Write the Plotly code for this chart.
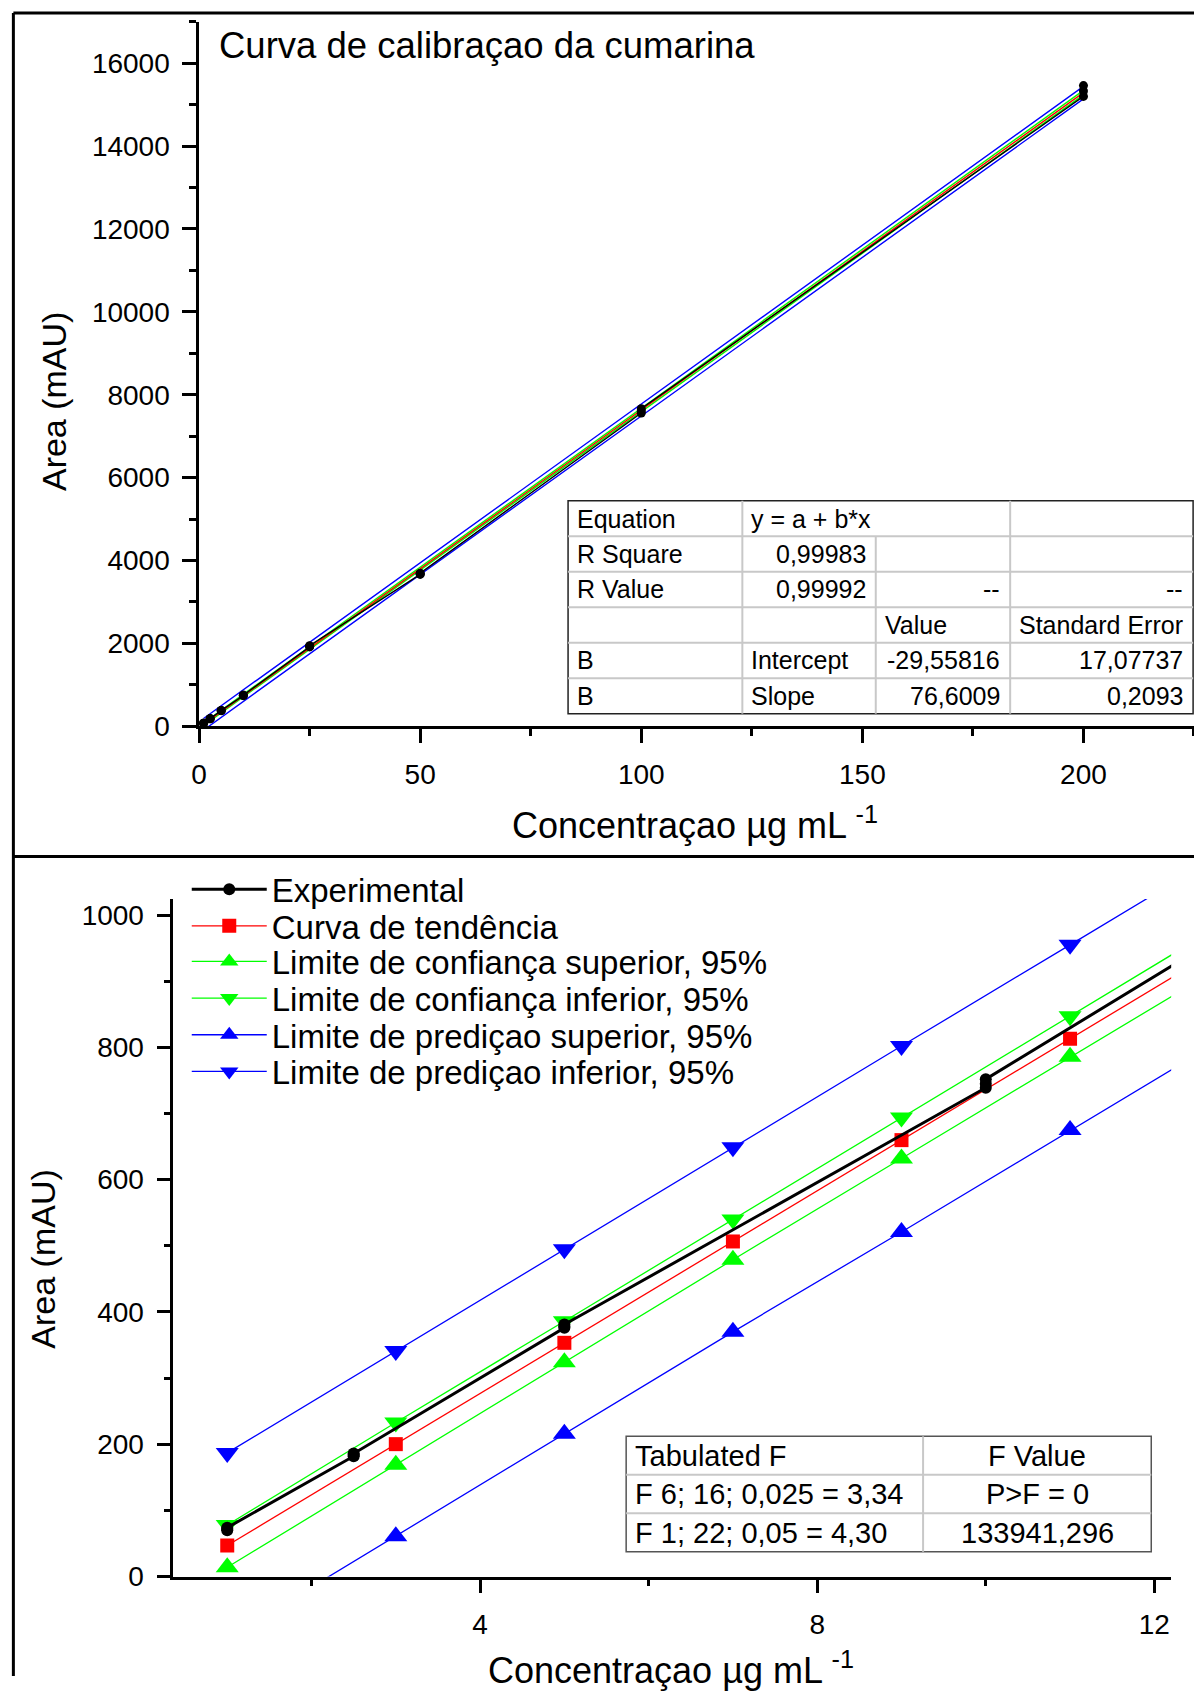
import plotly.graph_objects as go

W, H = 1194, 1692          # reference picture size
SY = 0.991                 # vertical factor observed between page and photograph
SX, DX = 0.9969, 3.6       # horizontal factor / offset observed between page and photograph
FONT = "Liberation Sans, Arial, sans-serif"

# ---------------- data ----------------
EXP_CONC = [1, 1, 1, 2.5, 2.5, 2.5, 5, 5, 5, 10, 10, 10,
            25, 25, 25, 50, 50, 50, 100, 100, 100, 200, 200, 200]
EXP_AREA = [70, 72, 74, 182, 184, 186, 376, 378, 381, 739, 745, 752,
            1915, 1930, 1945, 3665, 3680, 3695, 7560, 7610, 7665, 15200, 15330, 15460]

BAND_CONC = [1, 3, 5, 7, 9, 11, 13, 200]
TREND = [47.0, 200.2, 353.4, 506.6, 659.8, 813.0, 966.2, 15290.6]
CONF_SUP = [14, 169, 324, 479, 632, 786, 940, 15236]     # green up-triangles
CONF_INF = [78, 233, 386, 540, 694, 847, 1001, 15345]    # green down-triangles
PRED_SUP = [-93, 61, 216, 370, 521, 675, 829, 15140]     # blue up-triangles
PRED_INF = [187, 341, 495, 649, 802, 955, 1109, 15440]   # blue down-triangles

SERIES_NAMES = ["Experimental", "Curva de tendência",
                "Limite de confiança superior, 95%", "Limite de confiança inferior, 95%",
                "Limite de prediçao superior, 95%", "Limite de prediçao inferior, 95%"]

TITLE = "Curva de calibraçao da cumarina"
X_TITLE = "Concentraçao µg mL <sup>-1</sup>"
Y_TITLE = "Area (mAU)"

TABLE1 = [
    ["Equation", "y = a + b*x", "", ""],
    ["R Square", "0,99983", "", ""],
    ["R Value", "0,99992", "--", "--"],
    ["", "", "Value", "Standard Error"],
    ["B", "Intercept", "-29,55816", "17,07737"],
    ["B", "Slope", "76,6009", "0,2093"],
]
TABLE1_ALIGN = [
    ["l", "l", "l", "l"],
    ["l", "r", "r", "r"],
    ["l", "r", "r", "r"],
    ["l", "l", "l", "l"],
    ["l", "l", "r", "r"],
    ["l", "l", "r", "r"],
]
TABLE2 = [
    ["Tabulated F", "F Value"],
    ["F 6; 16; 0,025 = 3,34", "P>F = 0"],
    ["F 1; 22; 0,05 = 4,30", "133941,296"],
]

# ---------------- styles ----------------
BLACK, RED, GREEN, BLUE = "#000000", "#ff0000", "#00ff00", "#0000ff"


def px_x(v):
    return min(max(((v - DX) / SX) / W, 0.0), 1.0)


def px_y(v):
    return max(1 - (v / SY) / H, 0.0)


fig = go.Figure()

# ---- top panel (lines only for bands) ----
top_bands = [(PRED_SUP, BLUE), (PRED_INF, BLUE), (CONF_SUP, GREEN), (CONF_INF, GREEN), (TREND, RED)]
for vals, col in top_bands:
    fig.add_trace(go.Scatter(x=BAND_CONC, y=vals, mode="lines", line=dict(color=col, width=1.4),
                             xaxis="x", yaxis="y", showlegend=False, hoverinfo="skip"))
fig.add_trace(go.Scatter(x=EXP_CONC, y=EXP_AREA, mode="lines+markers",
                         line=dict(color=BLACK, width=1.4),
                         marker=dict(color=BLACK, size=9, symbol="circle"),
                         xaxis="x", yaxis="y", showlegend=False))

# ---- bottom panel ----
legend_keys = ["legend", "legend2", "legend3", "legend4", "legend5", "legend6"]
bottom_specs = [
    (PRED_SUP, BLUE, "triangle-up", 20, 4),
    (PRED_INF, BLUE, "triangle-down", 20, 5),
    (CONF_SUP, GREEN, "triangle-up", 20, 2),
    (CONF_INF, GREEN, "triangle-down", 20, 3),
    (TREND, RED, "square", 14, 1),
]
for vals, col, sym, sz, idx in bottom_specs:
    fig.add_trace(go.Scatter(x=BAND_CONC, y=vals, mode="lines+markers", name=SERIES_NAMES[idx],
                             line=dict(color=col, width=1.3),
                             marker=dict(color=col, size=sz, symbol=sym, line=dict(width=0)),
                             xaxis="x2", yaxis="y2", legend=legend_keys[idx]))
fig.add_trace(go.Scatter(x=EXP_CONC, y=EXP_AREA, mode="lines+markers", name=SERIES_NAMES[0],
                         line=dict(color=BLACK, width=3),
                         marker=dict(color=BLACK, size=12, symbol="circle"),
                         xaxis="x2", yaxis="y2", legend=legend_keys[0]))


# ---------------- axes ----------------
def axis_common(dtick, minor_dtick):
    return dict(showline=True, linecolor=BLACK, linewidth=2.5, mirror=False,
                ticks="outside", ticklen=14, tickwidth=2.5, tickcolor=BLACK,
                tick0=0, dtick=dtick, showgrid=False, zeroline=False,
                tickfont=dict(family=FONT, size=28, color=BLACK), ticklabelstandoff=7,
                minor=dict(ticks="outside", ticklen=7, tickwidth=2.5, tickcolor=BLACK,
                           tick0=0, dtick=minor_dtick, showgrid=False))


fig.update_layout(
    xaxis=dict(domain=[px_x(195.4), 1.0], range=[0, 225], anchor="y", **axis_common(50, 25)),
    yaxis=dict(domain=[px_y(726.6), px_y(21.8)], range=[0, 17000], anchor="x", tickformat="d",
               **axis_common(2000, 1000)),
    xaxis2=dict(domain=[px_x(169.5), px_x(1171)], range=[0.36, 12.2], anchor="y2", **axis_common(4, 2)),
    yaxis2=dict(domain=[px_y(1577.3), px_y(899.3)], range=[0, 1024.5], anchor="x2", tickformat="d",
                **axis_common(200, 100)),
)

# ---------------- legends ----------------
LEG_Y = [889.6, 926.3, 961.9, 998.6, 1035.3, 1072.0]
for key, ly in zip(legend_keys, LEG_Y):
    fig.layout[key] = dict(x=px_x(183), y=px_y(ly), xanchor="left", yanchor="middle",
                           bgcolor="rgba(0,0,0,0)", borderwidth=0, itemwidth=75,
                           font=dict(family=FONT, size=33, color=BLACK))

# ---------------- annotations / shapes ----------------
annotations = []
shapes = []


def ann(text, x, y, size, xanchor="left", angle=0):
    annotations.append(dict(text=text, x=px_x(x), y=px_y(y), xref="paper", yref="paper",
                            showarrow=False, xanchor=xanchor, yanchor="middle", textangle=angle,
                            font=dict(family=FONT, size=size, color=BLACK)))


def line(x0, y0, x1, y1, color, width):
    shapes.append(dict(type="line", xref="paper", yref="paper", x0=px_x(x0), y0=px_y(y0),
                       x1=px_x(x1), y1=px_y(y1), line=dict(color=color, width=width), layer="above"))


def rect(x0, y0, x1, y1, color, width):
    shapes.append(dict(type="rect", xref="paper", yref="paper", x0=px_x(x0), y0=px_y(y0),
                       x1=px_x(x1), y1=px_y(y1), line=dict(color=color, width=width),
                       fillcolor="white", layer="above"))


# outer frame
line(9, 13, 1200, 13, BLACK, 3)
line(9, 13, 9, 1692, BLACK, 3)
line(9, 857, 1200, 857, BLACK, 3)

# titles
ann(TITLE, 213, 46, 36.5)
ann(X_TITLE, 693, 823, 36, xanchor="center")
ann(Y_TITLE, 50, 402, 34, xanchor="center", angle=-90)
ann(X_TITLE, 669, 1669, 36, xanchor="center")
ann(Y_TITLE, 39, 1260, 34, xanchor="center", angle=-90)

# table 1
T1_COLS = [565.7, 740.6, 874.5, 1009.4, 1193.0]
T1_TOP, T1_BOT = 501.0, 714.0
rh = (T1_BOT - T1_TOP) / len(TABLE1)
rect(T1_COLS[0], T1_TOP, T1_COLS[-1], T1_BOT, "#222222", 1.5)
for r in range(1, len(TABLE1)):
    line(T1_COLS[0], T1_TOP + r * rh, T1_COLS[-1], T1_TOP + r * rh, "#c8c8c8", 2)
line(T1_COLS[1], T1_TOP, T1_COLS[1], T1_BOT, "#c8c8c8", 2)
line(T1_COLS[2], T1_TOP + rh, T1_COLS[2], T1_BOT, "#c8c8c8", 2)
line(T1_COLS[3], T1_TOP, T1_COLS[3], T1_BOT, "#c8c8c8", 2)
for r, row in enumerate(TABLE1):
    yc = T1_TOP + (r + 0.5) * rh
    for c, txt in enumerate(row):
        if not txt:
            continue
        if TABLE1_ALIGN[r][c] == "l":
            ann(txt, T1_COLS[c] + 7, yc, 25)
        else:
            ann(txt, T1_COLS[c + 1] - 8, yc, 25, xanchor="right")

# table 2
T2_COLS = [624.0, 922.0, 1151.0]
T2_TOP, T2_BOT = 1437.0, 1552.5
rh2 = (T2_BOT - T2_TOP) / len(TABLE2)
rect(T2_COLS[0], T2_TOP, T2_COLS[-1], T2_BOT, "#555555", 1.5)
for r in range(1, len(TABLE2)):
    line(T2_COLS[0], T2_TOP + r * rh2, T2_COLS[-1], T2_TOP + r * rh2, "#c8c8c8", 2)
line(T2_COLS[1], T2_TOP, T2_COLS[1], T2_BOT, "#c8c8c8", 2)
for r, row in enumerate(TABLE2):
    yc = T2_TOP + (r + 0.5) * rh2
    ann(row[0], T2_COLS[0] + 7, yc, 29)
    ann(row[1], (T2_COLS[1] + T2_COLS[2]) / 2, yc, 29, xanchor="center")

fig.update_layout(
    width=W, height=H, autosize=False,
    margin=dict(l=0, r=0, t=0, b=0, pad=0),
    paper_bgcolor="white", plot_bgcolor="white",
    font=dict(family=FONT, color=BLACK),
    annotations=annotations, shapes=shapes,
)

PAGE_JS = ("document.documentElement.style.margin='0';document.body.style.margin='0';"
           "document.documentElement.style.overflow='hidden';document.body.style.overflow='hidden';")
fig.write_html("out.html", config={"displayModeBar": False}, post_script=PAGE_JS)
